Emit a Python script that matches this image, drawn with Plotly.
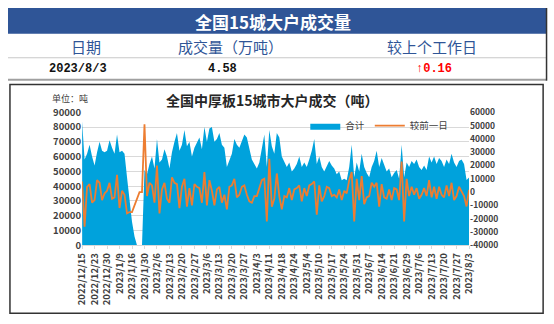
import plotly.graph_objects as go

W, H = 554, 324

# ---------------- data ----------------
tick_labels = ["2022/12/15", "2022/12/23", "2022/12/30", "2023/1/9", "2023/1/16", "2023/1/30",
               "2023/2/6", "2023/2/13", "2023/2/20", "2023/2/27", "2023/3/6", "2023/3/13",
               "2023/3/20", "2023/3/27", "2023/4/3", "2023/4/11", "2023/4/18", "2023/4/24",
               "2023/5/4", "2023/5/10", "2023/5/17", "2023/5/24", "2023/5/31", "2023/6/7",
               "2023/6/14", "2023/6/21", "2023/6/29", "2023/7/6", "2023/7/13", "2023/7/20",
               "2023/7/27", "2023/8/3"]

total = [84000, 58000, 62000, 68000, 60000, 54000, 63000, 70000, 64000, 63000,
         64000, 71000, 66000, 62000, 75000, 63000, 64000, 62000, 46000, 31000,
         16000, 6000, 0, 0, 0, 51000, 48000, 55000, 60000, 52000,
         72000, 56000, 58000, 65000, 60000, 52000, 63000, 70000, 76000, 64000,
         68000, 78000, 67000, 70000, 60000, 66000, 70000, 73000, 65000, 80000,
         70000, 79000, 80000, 70000, 72000, 76000, 68000, 66000, 53000, 57000,
         62000, 72000, 68000, 66000, 70000, 75000, 73000, 66000, 58000, 55000,
         52000, 56000, 65000, 75000, 53000, 78000, 67000, 62000, 76000, 73000,
         60000, 57000, 53000, 56000, 50000, 52000, 55000, 60000, 53000, 56000,
         53000, 58000, 64000, 72000, 55000, 60000, 53000, 50000, 54000, 57000,
         54000, 52000, 48000, 50000, 44000, 45000, 44000, 53000, 68000, 46000,
         56000, 50000, 62000, 53000, 49000, 46000, 53000, 57000, 64000, 53000,
         59000, 55000, 50000, 52000, 46000, 49000, 51000, 45000, 68000, 46000,
         56000, 53000, 57000, 55000, 58000, 53000, 51000, 54000, 51000, 60000,
         56000, 60000, 55000, 59000, 57000, 53000, 58000, 55000, 62000, 56000,
         53000, 57000, 58000, 55000, 44200, 45800]

change = [8000, -26000, 4000, 6000, -8000, -6000, 9000, 7000, -6000, -1000,
          1000, 7000, -5000, -4000, 13000, -12000, 1000, -2000, -16000, -15000,
          -15000, -10000, -6000, 0, 0, 51000, -3000, 7000, 5000, -8000,
          20000, -16000, 2000, 7000, -5000, -8000, 11000, 7000, 6000, -12000,
          4000, 10000, -11000, 3000, -10000, 6000, 4000, 3000, -8000, 15000,
          -10000, 9000, 1000, -10000, 2000, 4000, -8000, -2000, -13000, 4000,
          5000, 10000, -4000, -2000, 4000, 5000, -2000, -7000, -8000, -3000,
          -3000, 4000, 9000, 10000, -22000, 25000, -11000, -5000, 14000, -3000,
          -13000, -3000, -4000, 3000, -6000, 2000, 3000, 5000, -7000, 3000,
          -3000, 5000, 6000, 8000, -17000, 5000, -7000, -3000, 4000, 3000,
          -3000, -2000, -4000, 2000, -6000, 1000, -1000, 9000, 15000, -22000,
          10000, -6000, 12000, -9000, -4000, -3000, 7000, 4000, 7000, -11000,
          6000, -4000, -5000, 2000, -6000, 3000, 2000, -6000, 23000, -22000,
          10000, -3000, 4000, -2000, 3000, -5000, -2000, 3000, -3000, 9000,
          -4000, 4000, -5000, 4000, -2000, -4000, 5000, -3000, 7000, -6000,
          -3000, 4000, 1000, -3000, -10800, 1600]

left_ticks = [0, 10000, 20000, 30000, 40000, 50000, 60000, 70000, 80000, 90000]
right_ticks = [-40000, -30000, -20000, -10000, 0, 10000, 20000, 30000, 40000, 50000, 60000]

header_cols = ["日期", "成交量（万吨）", "较上个工作日"]
header_vals = ["2023/8/3", "4.58", "0.16"]

# ---------------- figure ----------------
x = list(range(len(total)))
tickvals = list(range(0, len(total), 5))

BLUE = "#00A2DC"
ORANGE = "#ED7D31"
TXT = "#404040"
FONT = "Noto Sans CJK SC"

fig = go.Figure()
fig.add_trace(go.Scatter(x=x, y=total, name="合计", mode="lines",
                         line=dict(width=0, color=BLUE), fill="tozeroy",
                         fillcolor=BLUE, yaxis="y"))
fig.add_trace(go.Scatter(x=x, y=change, name="较前一日", mode="lines",
                         line=dict(width=1.8, color=ORANGE), yaxis="y2"))

def px_x(v):
    return v / W

def px_y(v):
    return 1 - v / H

fig.update_layout(
    width=W, height=H, autosize=False,
    margin=dict(l=0, r=0, t=0, b=0),
    paper_bgcolor="white", plot_bgcolor="white",
    font=dict(family=FONT, color=TXT, size=10),
    showlegend=True,
    legend=dict(orientation="h", x=px_x(305), y=px_y(123), xanchor="left", yanchor="middle",
                bgcolor="rgba(0,0,0,0)", font=dict(size=9.5, color=TXT, family=FONT),
                itemwidth=30, tracegroupgap=0),
    xaxis=dict(domain=[px_x(76), px_x(473)], range=[0, len(total) - 1],
               tickmode="array", tickvals=tickvals, ticktext=tick_labels,
               tickangle=-90, showgrid=False, zeroline=False,
               showline=True, linecolor="#D9D9D9", ticks="outside", ticklen=3,
               tickcolor="#D9D9D9",
               tickfont=dict(size=9.5, color=TXT, family=FONT, weight="bold")),
    yaxis=dict(domain=[px_y(248), px_y(109)], range=[0, 90000],
               tickmode="array", tickvals=left_ticks, ticktext=[str(v) for v in left_ticks],
               showgrid=True, gridcolor="#D9D9D9", gridwidth=1, zeroline=False,
               showline=False, ticks="",
               tickfont=dict(size=9.5, color=TXT, family=FONT, weight="bold")),
    yaxis2=dict(overlaying="y", side="right", range=[-40000, 60000],
                tickmode="array", tickvals=right_ticks, ticktext=[str(v) for v in right_ticks],
                showgrid=False, zeroline=False, showline=False, ticks="",
                tickfont=dict(size=8.5, color=TXT, family=FONT, weight="bold")),
)

shapes = []
# header band
shapes.append(dict(type="rect", xref="paper", yref="paper", x0=0, x1=px_x(552),
                   y0=px_y(27), y1=1, fillcolor="#2F5597", line=dict(width=0), layer="below"))
# row separators
shapes.append(dict(type="line", xref="paper", yref="paper", x0=0, x1=px_x(552),
                   y0=px_y(52), y1=px_y(52), line=dict(color="#C8C8C8", width=1)))
shapes.append(dict(type="line", xref="paper", yref="paper", x0=0, x1=px_x(552),
                   y0=px_y(75), y1=px_y(75), line=dict(color="#A0A0A0", width=2)))
# table right border
shapes.append(dict(type="line", xref="paper", yref="paper", x0=px_x(552.5), x1=px_x(552.5),
                   y0=px_y(76), y1=1, line=dict(color="#333333", width=1.5)))
# chart border
shapes.append(dict(type="rect", xref="paper", yref="paper", x0=px_x(2), x1=px_x(549),
                   y0=px_y(319), y1=px_y(80), line=dict(color="#333333", width=1.5),
                   fillcolor="rgba(0,0,0,0)"))
fig.update_layout(shapes=shapes)

ann = []
ann.append(dict(text="<b>全国15城大户成交量</b>", x=px_x(272), y=px_y(14), xref="paper", yref="paper",
                showarrow=False, xanchor="center", yanchor="middle",
                font=dict(size=17, color="white", family=FONT)))
for cx, t in zip([80, 228, 435], header_cols):
    ann.append(dict(text=t, x=px_x(cx), y=px_y(40), xref="paper", yref="paper",
                    showarrow=False, xanchor="center", yanchor="middle",
                    font=dict(size=15, color="#2F5597", family=FONT)))
ann.append(dict(text="<b>" + header_vals[0] + "</b>", x=px_x(72), y=px_y(64), xref="paper", yref="paper",
                showarrow=False, xanchor="center", yanchor="middle",
                font=dict(size=12, color="#111111", family="Liberation Mono")))
ann.append(dict(text="<b>" + header_vals[1] + "</b>", x=px_x(220), y=px_y(64), xref="paper", yref="paper",
                showarrow=False, xanchor="center", yanchor="middle",
                font=dict(size=12, color="#111111", family="Liberation Mono")))
ann.append(dict(text="<b>↑" + header_vals[2] + "</b>", x=px_x(437), y=px_y(64), xref="paper", yref="paper",
                showarrow=False, xanchor="center", yanchor="middle",
                font=dict(size=12, color="#FF0000", family="Liberation Mono")))
ann.append(dict(text="<b>全国中厚板15城市大户成交（吨）</b>", x=px_x(271), y=px_y(96), xref="paper", yref="paper",
                showarrow=False, xanchor="center", yanchor="middle",
                font=dict(size=14, color="#262626", family=FONT)))
ann.append(dict(text="单位：吨", x=px_x(64), y=px_y(95), xref="paper", yref="paper",
                showarrow=False, xanchor="center", yanchor="middle",
                font=dict(size=9, color=TXT, family=FONT)))
fig.update_layout(annotations=ann)

fig.write_html("out.html")
